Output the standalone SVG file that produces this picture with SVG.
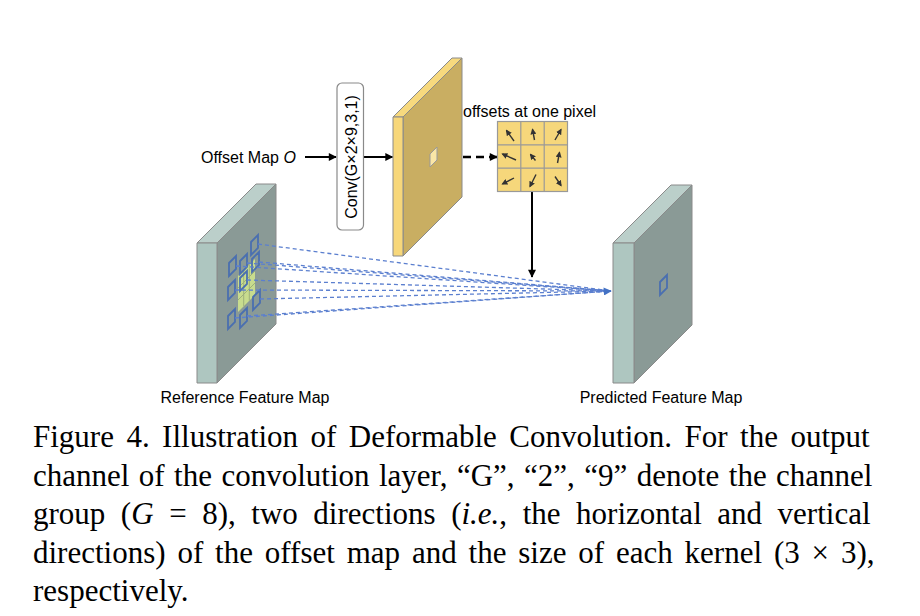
<svg xmlns="http://www.w3.org/2000/svg" xmlns:xlink="http://www.w3.org/1999/xlink" width="920" height="616" viewBox="0 0 920 616">
<style>
.lbl{font-family:"Liberation Sans",Arial,sans-serif;font-size:16px;fill:#000}
.cap{font-family:"Liberation Serif","Times New Roman",serif;font-size:31px;fill:#000}
.edge{stroke:#8a8a8a;stroke-width:1;stroke-linejoin:round}
.gfront{fill:#AEC6C0}
.gtop{fill:#BBCFCA}
.gside{fill:#8A9A96}
.yfront{fill:#F7D77A}
.ytop{fill:#F7D97E}
.yside{fill:#C9AE62}
.blk{stroke:#000;stroke-width:2;fill:none}
.bdash{stroke:#5B7FCF;stroke-width:1.3;stroke-dasharray:4 3;fill:none}
.bpx{fill:none;stroke:#4A6FB0;stroke-width:1.8;stroke-linejoin:miter}
.carr{stroke:#333;stroke-width:1.4;fill:none}
</style>
<defs>
<marker id="ah" viewBox="0 0 10 10" refX="9" refY="5" markerWidth="9" markerHeight="8" markerUnits="userSpaceOnUse" orient="auto"><path d="M0,0 L10,5 L0,10 z" fill="#000"/></marker>
<marker id="ahb" viewBox="0 0 10 10" refX="9" refY="5" markerWidth="9" markerHeight="8" markerUnits="userSpaceOnUse" orient="auto"><path d="M0,0 L10,5 L0,10 z" fill="#4472C4"/></marker>
<marker id="ahs" viewBox="0 0 10 10" refX="8" refY="5" markerWidth="6" markerHeight="6" markerUnits="userSpaceOnUse" orient="auto"><path d="M0,0 L10,5 L0,10 z" fill="#333"/></marker>
<path id="px" d="M0,7 L7,0 L7,13 L0,20 Z"/>
</defs>

<g id="connectors">
  <line class="blk" x1="305" y1="157" x2="336" y2="157" marker-end="url(#ah)"/>
  <line class="blk" x1="363.5" y1="157" x2="392.5" y2="157" marker-end="url(#ah)"/>
  <line x1="437" y1="157" x2="497" y2="157" stroke="#000" stroke-width="2.5" stroke-dasharray="8 5" marker-end="url(#ah)"/>
  <line class="blk" x1="532" y1="191.5" x2="532" y2="277" marker-end="url(#ah)"/>
</g>

<g id="offset-map-label">
  <text class="lbl" x="201" y="162.5">Offset Map <tspan font-style="italic">O</tspan></text>
</g>

<g id="conv">
  <rect x="337" y="83" width="26.5" height="147" rx="5" ry="5" fill="#fff" stroke="#8a8a8a" stroke-width="1.2"/>
  <text class="lbl" transform="translate(357,157) rotate(-90)" text-anchor="middle" font-size="16.5">Conv(G×2×9,3,1)</text>
</g>

<g id="offset-feature">
  <polygon class="yside edge" points="403,117 462,58 462,197 403,256"/>
  <polygon class="ytop edge" points="393,117 403,117 462,58 452,58"/>
  <polygon class="yfront edge" points="393,117 403,117 403,256 393,256"/>
  <polygon points="430,154 437,147 437,160 430,167" fill="#FAE6A6" stroke="#999" stroke-width="1"/>
</g>

<g id="offset-grid">
  <text class="lbl" x="463" y="117" font-size="16.2">offsets at one pixel</text>
  <rect x="497.5" y="121.5" width="70" height="70" fill="#F6D77B" stroke="#999" stroke-width="1.2"/>
  <path d="M520.8,121.5 V191.5 M544.2,121.5 V191.5 M497.5,144.8 H567.5 M497.5,168.2 H567.5" stroke="#999" stroke-width="1.2" fill="none"/>
  <line class="carr" x1="514" y1="141" x2="506.5" y2="130.5" marker-end="url(#ahs)"/>
  <line class="carr" x1="534.5" y1="140" x2="532.5" y2="129.5" marker-end="url(#ahs)"/>
  <line class="carr" x1="555" y1="140" x2="561" y2="129.5" marker-end="url(#ahs)"/>
  <line class="carr" x1="516" y1="160" x2="502.5" y2="154" marker-end="url(#ahs)"/>
  <line class="carr" x1="535.5" y1="160.5" x2="530.5" y2="154.5" marker-end="url(#ahs)"/>
  <line class="carr" x1="557.5" y1="163" x2="559.5" y2="152.5" marker-end="url(#ahs)"/>
  <line class="carr" x1="514" y1="178" x2="502.5" y2="184" marker-end="url(#ahs)"/>
  <line class="carr" x1="536" y1="174.5" x2="530" y2="186.5" marker-end="url(#ahs)"/>
  <line class="carr" x1="555" y1="176.5" x2="561" y2="185.5" marker-end="url(#ahs)"/>
</g>

<g id="reference-map">
  <polygon class="gside edge" points="217,243 276,184 276,324 217,383"/>
  <polygon class="gtop edge" points="197,243 217,243 276,184 256,184"/>
  <polygon class="gfront edge" points="197,243 217,243 217,383 197,383"/>
  <polygon points="238,276 255,259 255,295 238,312" fill="#C8DC8E"/>
  <path d="M243.7,270.3 V306.3 M249.3,264.7 V300.7 M238,288 L255,271 M238,300 L255,283" stroke="#9DB07A" stroke-width="1" fill="none"/>
  <use href="#px" class="bpx" x="251" y="235"/>
  <use href="#px" class="bpx" x="229" y="256"/>
  <use href="#px" class="bpx" x="240" y="254"/>
  <use href="#px" class="bpx" x="252" y="252"/>
  <use href="#px" class="bpx" x="240" y="271"/>
  <use href="#px" class="bpx" x="228" y="280"/>
  <use href="#px" class="bpx" x="253" y="290"/>
  <use href="#px" class="bpx" x="228" y="309"/>
  <use href="#px" class="bpx" x="240" y="308"/>
  <text class="lbl" x="245" y="403" text-anchor="middle" font-size="16.5">Reference Feature Map</text>
</g>

<g id="sampling-lines">
  <line class="bdash" x1="258" y1="244" x2="611" y2="291"/>
  <line class="bdash" x1="236" y1="266" x2="611" y2="291"/>
  <line class="bdash" x1="247" y1="263" x2="611" y2="291"/>
  <line class="bdash" x1="259" y1="262" x2="611" y2="291"/>
  <line class="bdash" x1="247" y1="280" x2="611" y2="291"/>
  <line class="bdash" x1="235" y1="290" x2="611" y2="291"/>
  <line class="bdash" x1="260" y1="299" x2="611" y2="291"/>
  <line class="bdash" x1="235" y1="318" x2="611" y2="291"/>
  <line class="bdash" x1="247" y1="316" x2="611" y2="291" marker-end="url(#ahb)"/>
</g>

<g id="predicted-map">
  <polygon class="gside edge" points="634,243 692,185 692,325 634,383"/>
  <polygon class="gtop edge" points="613,243 634,243 692,185 671,185"/>
  <polygon class="gfront edge" points="613,243 634,243 634,383 613,383"/>
  <use href="#px" class="bpx" x="660" y="275"/>
  <text class="lbl" x="661" y="403" text-anchor="middle" font-size="16.5">Predicted Feature Map</text>
</g>

<g id="caption">
  <text class="cap" x="33" y="447" word-spacing="4.7">Figure 4. Illustration of Deformable Convolution. For the output</text>
  <text class="cap" x="33" y="485.5" word-spacing="1.7">channel of the convolution layer, “G”, “2”, “9” denote the channel</text>
  <text class="cap" x="33" y="524" word-spacing="7.8">group (<tspan font-style="italic">G</tspan> = 8), two directions (<tspan font-style="italic">i.e.</tspan>, the horizontal and vertical</text>
  <text class="cap" x="33" y="562.5" word-spacing="4.1">directions) of the offset map and the size of each kernel (3 × 3),</text>
  <text class="cap" x="33" y="601">respectively.</text>
</g>
</svg>
